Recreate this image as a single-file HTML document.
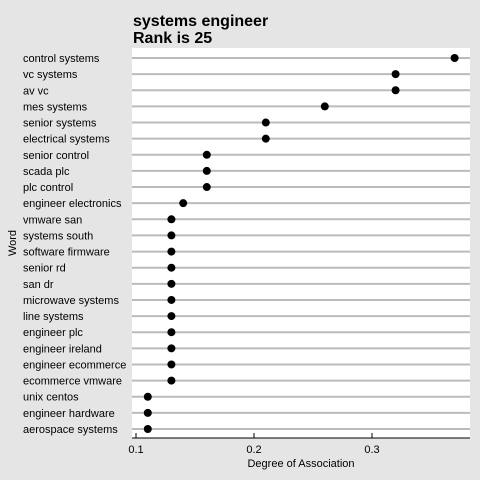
<!DOCTYPE html>
<html><head><style>
body{margin:0;background:#e5e5e5;font-family:"Liberation Sans",sans-serif;}
</style></head><body>
<svg width="480" height="480" style="display:block">
<rect width="480" height="480" fill="#e5e5e5"/>
<text x="133" y="26" font-size="16" font-weight="bold">systems engineer</text>
<text x="133" y="43" font-size="16" font-weight="bold">Rank is 25</text>
<rect x="132" y="48" width="338" height="390" fill="#fff"/>
<g id="rows"></g>
<line x1="132" y1="438" x2="470" y2="438" stroke="#000" stroke-width="1"/>
<g id="xt"></g>
<text x="301" y="467" font-size="11" text-anchor="middle">Degree of Association</text>
<text x="0" y="0" font-size="11" text-anchor="middle" transform="translate(16,243) rotate(-90)">Word</text>
</svg>
<script>
const words=["control systems","vc systems","av vc","mes systems","senior systems","electrical systems","senior control","scada plc","plc control","engineer electronics","vmware san","systems south","software firmware","senior rd","san dr","microwave systems","line systems","engineer plc","engineer ireland","engineer ecommerce","ecommerce vmware","unix centos","engineer hardware","aerospace systems"];
const values=[0.37,0.32,0.32,0.26,0.21,0.21,0.16,0.16,0.16,0.14,0.13,0.13,0.13,0.13,0.13,0.13,0.13,0.13,0.13,0.13,0.13,0.11,0.11,0.11];
const ticks=[0.1,0.2,0.3];
const tickLabels=["0.1","0.2","0.3"];
const NS="http://www.w3.org/2000/svg";
const x=v=>136+(v-0.1)*1180;
const y=i=>58+i*(429-58)/(words.length-1);
function mk(t,a,p){const e=document.createElementNS(NS,t);for(const k in a)e.setAttribute(k,a[k]);p.appendChild(e);return e;}
const rows=document.getElementById('rows');
words.forEach((w,i)=>{
 const l=mk('line',{x1:132,x2:470,y1:y(i),y2:y(i),stroke:'#bbb','stroke-width':2},rows);
 
 
 const t=mk('text',{x:23,y:y(i)+4,'font-size':11},rows);t.textContent=w;
 
 
});
words.forEach((w,i)=>{
 const c=mk('circle',{cx:x(values[i]),cy:y(i),r:4,fill:'#000'},rows);
 
 
});
const xt=document.getElementById('xt');
ticks.forEach((v,i)=>{
 const l=mk('line',{x1:x(v),x2:x(v),y1:433,y2:438,stroke:'#000'},xt);
 
 
 const t=mk('text',{x:x(v),y:453,'font-size':11,'text-anchor':'middle'},xt);t.textContent=tickLabels[i];
 
 
});
</script>
</body></html>
